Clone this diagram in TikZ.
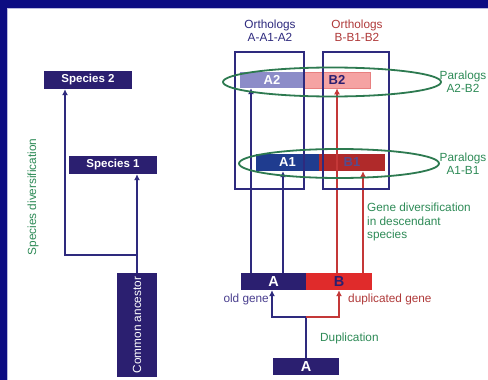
\documentclass[tikz,border=0pt]{standalone}
\usepackage{fontspec}
\setmainfont{Liberation Sans}
\usetikzlibrary{arrows.meta}
\definecolor{navy}{HTML}{0C0C82}
\definecolor{indigo}{HTML}{2B1F70}
\definecolor{lineind}{HTML}{2E2A7E}
\definecolor{aone}{HTML}{1F3C8F}
\definecolor{bone}{HTML}{B02A2A}
\definecolor{atwo}{HTML}{8C8CC8}
\definecolor{btwo}{HTML}{F5A3A3}
\definecolor{btwoedge}{HTML}{E88080}
\definecolor{bgene}{HTML}{E02B2B}
\definecolor{redline}{HTML}{C43838}
\definecolor{redtext}{HTML}{B03A3A}
\definecolor{greentext}{HTML}{2E8B57}
\definecolor{ellgreen}{HTML}{2D7A50}
\definecolor{oldgene}{HTML}{4A3F8F}
\tikzset{
  sbox/.style={draw=none, fill=indigo, text=white, inner sep=0pt, font=\fontsize{11.5}{13}\selectfont\bfseries},
  genebox/.style={inner sep=0pt, minimum height=17pt, font=\fontsize{14.5}{15}\selectfont\bfseries},
  parbox/.style={inner sep=0pt, font=\fontsize{13}{14}\selectfont\bfseries},
  orthobox/.style={draw=lineind, line width=1.3pt, inner sep=0pt},
  conn/.style={draw=lineind, line width=1.8pt},
  rconn/.style={draw=redline, line width=1.8pt},
  tip/.style={-{Latex[length=6pt,width=6pt]}},
  lbl/.style={font=\fontsize{11.8}{13}\selectfont, inner sep=0pt},
  paral/.style={draw=ellgreen, line width=1.8pt}
}
\begin{document}
\begin{tikzpicture}[x=1pt,y=-1pt]
\useasboundingbox (0,0) rectangle (488,380);
\fill[white] (0,0) rectangle (488,380);
% frame
\fill[navy] (0,0) rectangle (488,8);
\fill[navy] (0,0) rectangle (7,380);
\draw[color=atwo!60, line width=0.8pt] (7.4,380) -- (7.4,8.4) -- (488,8.4);

% left: species tree
\node[sbox, minimum width=88pt, minimum height=18pt] (s2) at (88,80) {Species 2};
\node[sbox, minimum width=88pt, minimum height=18pt] (s1) at (113,165) {Species 1};
\node[sbox, minimum width=40pt, minimum height=104pt] (ca) at (137,325) {};
\node[lbl, text=white, rotate=90] (catext) at (ca) {Common ancestor};
\coordinate (j) at (137,255);
\draw[conn, tip] (ca.north) -- ([xshift=24pt]s1.south);
\draw[conn, tip] (j) -| ([xshift=-23pt]s2.south);
\node[lbl, text=greentext, rotate=90] (spdiv) at (33,197) {Species diversification};

% right: genes
\node[genebox, fill=indigo, text=white, minimum width=65pt] (gA) at (273.5,281.5) {A};
\node[genebox, fill=bgene, text=indigo, minimum width=66pt] (gB) at (339,281.5) {B};
\node[genebox, fill=indigo, text=white, minimum width=66pt] (bA) at (306,366.5) {A};

\node[parbox, fill=aone, text=white, minimum width=63pt, minimum height=17pt] (A1) at (287.5,162.5) {A1};
\node[parbox, fill=bone, text=indigo!80, minimum width=66pt, minimum height=17pt] (B1) at (352,162.5) {B1};
\node[parbox, fill=atwo, text=white, minimum width=64pt, minimum height=16pt] (A2) at (272,80) {A2};
\node[parbox, fill=btwo, draw=btwoedge, line width=0.6pt, text=indigo, minimum width=66pt, minimum height=16pt] (B2) at (337,80) {B2};

% duplication
\coordinate (dup) at ([yshift=41pt]bA.north);
\draw[conn] (bA.north) -- (dup);
\draw[conn, tip] (dup) -| ([xshift=-1.5pt]gA.south);
\draw[rconn, tip] (dup) -| (gB.south);

% descendant arrows
\draw[conn, tip] ([xshift=-22.5pt]gA.north) -- ([xshift=-21pt]A2.south);
\draw[conn, tip] ([xshift=9.5pt]gA.north) -- ([xshift=-4.5pt]A1.south);
\draw[rconn, tip] ([xshift=-2pt]gB.north) -- (B2.south);
\draw[rconn, tip] ([xshift=24pt]gB.north) -- ([xshift=11pt]B1.south);

% ortholog boxes
\node[orthobox, minimum width=69pt, minimum height=137pt] (oA) at (269.5,120.5) {};
\node[orthobox, minimum width=66pt, minimum height=137pt] (oB) at (356,120.5) {};
\node[lbl, text=lineind, align=center] (oAl) at (270,31) {Orthologs\\A-A1-A2};
\node[lbl, text=redtext, align=center] (oBl) at (357,31) {Orthologs\\B-B1-B2};

% paralog ellipses
\draw[paral] (332,82) ellipse [x radius=109pt, y radius=14.5pt];
\draw[paral] (339,163.5) ellipse [x radius=100pt, y radius=14.5pt];
\node[lbl, text=greentext, align=center] (p2) at (463,81.5) {Paralogs\\A2-B2};
\node[lbl, text=greentext, align=center] (p1) at (463,163.5) {Paralogs\\A1-B1};

% labels
\node[lbl, text=greentext, align=left, anchor=north west, font=\fontsize{11.8}{13.5}\selectfont] (gdiv) at (367,203) {Gene diversification\\in descendant\\species};
\node[lbl, text=oldgene, anchor=east] (og) at (269,299) {old gene};
\node[lbl, text=redtext, anchor=west] (dg) at (348,299) {duplicated gene};
\node[lbl, text=greentext, anchor=west] (dl) at (320,338) {Duplication};
\end{tikzpicture}
\end{document}
